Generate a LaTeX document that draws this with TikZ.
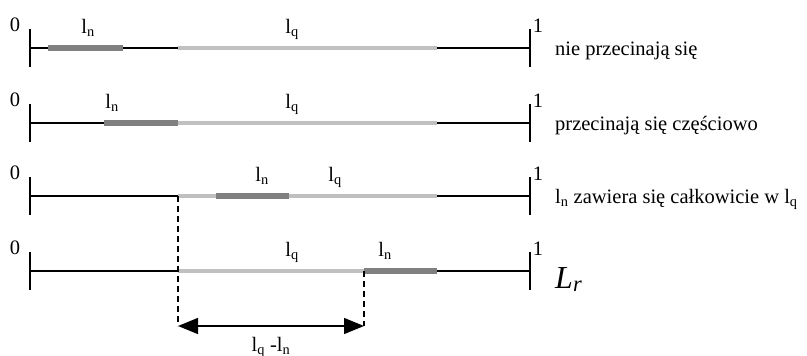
\documentclass[tikz,border=0pt]{standalone}
\usepackage{fontspec}
\setmainfont{Liberation Serif}
\usetikzlibrary{arrows.meta}

\definecolor{qgray}{HTML}{C0C0C0}
\definecolor{ngray}{HTML}{808080}

\begin{document}
\begin{tikzpicture}[
    x=1pt, y=-1pt,
    axis/.style={line width=1.4pt},
    tickmark/.style={line width=1.8pt},
    qseg/.style={line width=4pt, qgray},
    nseg/.style={line width=6pt, ngray},
    guide/.style={line width=1.3pt, dash pattern=on 6pt off 4pt},
    lab/.style={anchor=base, inner sep=0pt, font=\fontsize{20.5}{23}\selectfont},
    note/.style={anchor=base west, inner sep=0pt, font=\fontsize{20.5}{23}\selectfont}
    ]
\useasboundingbox (0,0) rectangle (807,356);

% four unit intervals [0,1]
\foreach [count=\j] \y in {48,123,196,271} {
   \coordinate (a-\j) at (30,\y);
   \coordinate (b-\j) at (530,\y);
   \draw [axis] (a-\j) -- (b-\j);
   \draw [tickmark] ([yshift=19pt]a-\j) -- ([yshift=-19pt]a-\j);
   \draw [tickmark] ([yshift=19pt]b-\j) -- ([yshift=-19pt]b-\j);
   \node [lab] (zero-\j) at (15,\y-17) {0};
   \node [lab] (one-\j) at (538,\y-16) {1};
  }

% l_q segments, then l_n on top
\foreach \j/\qs/\qe/\ns/\ne in {1/178/437/48/123, 2/178/437/104/178,
                                 3/178/437/216/289, 4/178/364/364/437} {
   \coordinate (q-\j-s) at (\qs,0 |- a-\j);
   \coordinate (q-\j-e) at (\qe,0 |- a-\j);
   \coordinate (n-\j-s) at (\ns,0 |- a-\j);
   \coordinate (n-\j-e) at (\ne,0 |- a-\j);
   \draw [qseg] (q-\j-s) -- (q-\j-e);
   \draw [nseg] (n-\j-s) -- (n-\j-e);
 }

% labels over the segments
\foreach \j/\xn/\xq in {1/88/292, 2/112/292, 3/262/335, 4/385/292} {
   \node [lab] (ln-\j) at (\xn,0 |- a-\j) [yshift=15pt] {l\textsubscript{n}};
   \node [lab] (lq-\j) at (\xq,0 |- a-\j) [yshift=15pt] {l\textsubscript{q}};
 }

\node [note] (t-1) at (555,55) {nie przecinają się};
\node [note] (t-2) at (555,130) {przecinają się częściowo};
\node [note] (t-3) at (555,203) {l\textsubscript{n} zawiera się całkowicie w l\textsubscript{q}};
\node [note, font=\fontsize{32}{36}\selectfont\itshape] (t-4) at (555,288) {L\textsubscript{r}};

% length of the free range
\coordinate (d-1) at (q-4-s |- 0,326);
\coordinate (d-2) at (q-4-e |- 0,326);
\draw [guide] (q-3-s) -- (d-1);
\draw [guide] (q-4-e) -- (d-2);
\draw [axis, {Triangle[length=20pt,width=16pt]}-{Triangle[length=20pt,width=16pt]}] (d-1) -- (d-2)
   node [lab, midway, yshift=-25pt] (diff) {l\textsubscript{q} -l\textsubscript{n}};
\end{tikzpicture}
\end{document}
